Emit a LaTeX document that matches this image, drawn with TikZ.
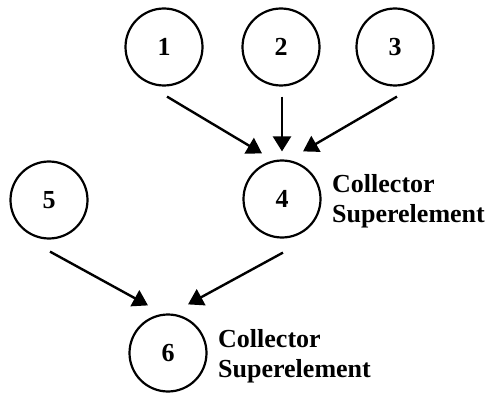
\documentclass[tikz,border=0pt]{standalone}
\usepackage{fontspec}
\setmainfont{Liberation Serif}
\usetikzlibrary{arrows.meta}
\begin{document}
\begin{tikzpicture}[x=1pt,y=-1pt,
  circ/.style={draw,circle,line width=2.2pt,minimum size=77pt,inner sep=0pt,font=\fontsize{26}{30}\selectfont\bfseries},
  lbl/.style={anchor=base west,inner sep=0pt,font=\fontsize{26}{30}\selectfont\bfseries},
  conn/.style={line width=2.4pt,-{Triangle[length=15pt,width=18pt]}}]
\useasboundingbox (0,0) rectangle (490,393);
\node[circ] (n1) at (164,47) {1};
\node[circ] (n2) at (281,47) {2};
\node[circ] (n3) at (395,47) {3};
\node[circ] (n4) at (282,199) {4};
\node[circ] (n5) at (49,200) {5};
\node[circ] (n6) at (168,353) {6};
\node[lbl] (l4) at (332,193) {\begin{tabular}[t]{@{}l@{}}Collector\\Superelement\end{tabular}};
\node[lbl] (l6) at (218,347) {\begin{tabular}[t]{@{}l@{}}Collector\\Superelement\end{tabular}};
\draw[conn] ([xshift=3pt,yshift=-10pt]n1.south) -- ([xshift=-20pt,yshift=6pt]n4.north);
\draw[conn] ([xshift=1pt,yshift=-10pt]n2.south) -- ([xshift=0pt,yshift=8pt]n4.north);
\draw[conn] ([xshift=2pt,yshift=-10pt]n3.south) -- ([xshift=21pt,yshift=8pt]n4.north);
\draw[conn] ([xshift=1pt,yshift=-12pt]n5.south) -- ([xshift=-20pt,yshift=8pt]n6.north);
\draw[conn] ([xshift=1pt,yshift=-14pt]n4.south) -- ([xshift=20pt,yshift=9pt]n6.north);
\end{tikzpicture}
\end{document}
